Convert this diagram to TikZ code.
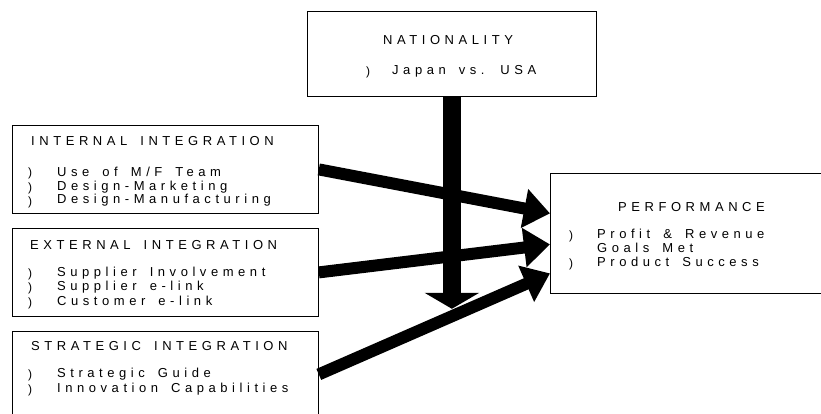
\documentclass[tikz,border=0pt]{standalone}
\usepackage{fontspec}
\setmainfont{Liberation Sans}
\newfontfamily\spacedfont[LetterSpace=35,WordSpace=1.6]{Liberation Sans}
\newcommand\spacedtext{\spacedfont\fontsize{13}{15}\selectfont}
\usetikzlibrary{arrows.meta,calc}
\tikzset{
  box/.style={draw=black, line width=0.8pt, fill=white, inner sep=0pt, anchor=north west},
  txt/.style={anchor=base west, inner sep=0pt, font=\spacedtext},
  bul/.style={anchor=base west, inner sep=0pt, font=\fontsize{12}{13}\selectfont},
  bigarrow/.style={line width=12pt, -{Triangle[width=38pt,length=26pt]}},
  downarrow/.style={line width=18pt, -{Triangle[width=54pt,length=16pt]}}
}
\begin{document}
\begin{tikzpicture}[x=1pt,y=-1pt]
\useasboundingbox (0,0) rectangle (821,414);
% boxes
\node[box, minimum width=289pt, minimum height=85pt] (nat) at (307,11) {};
\node[box, minimum width=306pt, minimum height=88pt] (int) at (12,125) {};
\node[box, minimum width=306pt, minimum height=88pt] (ext) at (12,228) {};
\node[box, minimum width=306pt, minimum height=86pt] (strat) at (12,331) {};
\node[box, minimum width=280pt, minimum height=120pt] (perf) at (550,173) {};
% nationality text
\node[txt] (natT) at (383,45) {NATIONALITY};
\node[bul] (natB1) at (366,76) {)};
\node[txt] (natI1) at (392,75) {Japan vs. USA};
% internal
\node[txt] (intT) at (31,146) {INTERNAL INTEGRATION};
\node[bul] (intB1) at (28,177) {)};
\node[bul] (intB2) at (28,191) {)};
\node[bul] (intB3) at (28,205) {)};
\node[txt] (intI1) at (57,176) {Use of M/F Team};
\node[txt] (intI2) at (57,190) {Design-Marketing};
\node[txt] (intI3) at (57,204) {Design-Manufacturing};
% external
\node[txt] (extT) at (30,249) {EXTERNAL INTEGRATION};
\node[bul] (extB1) at (28,277) {)};
\node[bul] (extB2) at (28,291) {)};
\node[bul] (extB3) at (28,306) {)};
\node[txt] (extI1) at (57,276) {Supplier Involvement};
\node[txt] (extI2) at (57,290) {Supplier e-link};
\node[txt] (extI3) at (57,305) {Customer e-link};
% strategic
\node[txt] (stratT) at (31,350) {STRATEGIC INTEGRATION};
\node[bul] (stratB1) at (28,378) {)};
\node[bul] (stratB2) at (28,393) {)};
\node[txt] (stratI1) at (57,377) {Strategic Guide};
\node[txt] (stratI2) at (57,392) {Innovation Capabilities};
% performance
\node[txt] (perfT) at (618,211) {PERFORMANCE};
\node[bul] (perfB1) at (569,239) {)};
\node[bul] (perfB2) at (569,267) {)};
\node[txt] (perfI1) at (597,238) {Profit \& Revenue};
\node[txt] (perfI2) at (597,252) {Goals Met};
\node[txt] (perfI3) at (597,266) {Product Success};
% arrows
\coordinate (downEnd) at ($(nat.south)+(0,212)$);
\draw[downarrow] (nat.south) -- (downEnd);
\coordinate (pA) at ($(perf.west)+(0,-20)$);
\coordinate (pB) at ($(perf.west)+(0,11)$);
\coordinate (pC) at ($(perf.west)+(0,40)$);
\draw[bigarrow] (int.east) -- (pA);
\draw[bigarrow] (ext.east) -- (pB);
\draw[bigarrow] (strat.east) -- (pC);
\end{tikzpicture}
\end{document}
